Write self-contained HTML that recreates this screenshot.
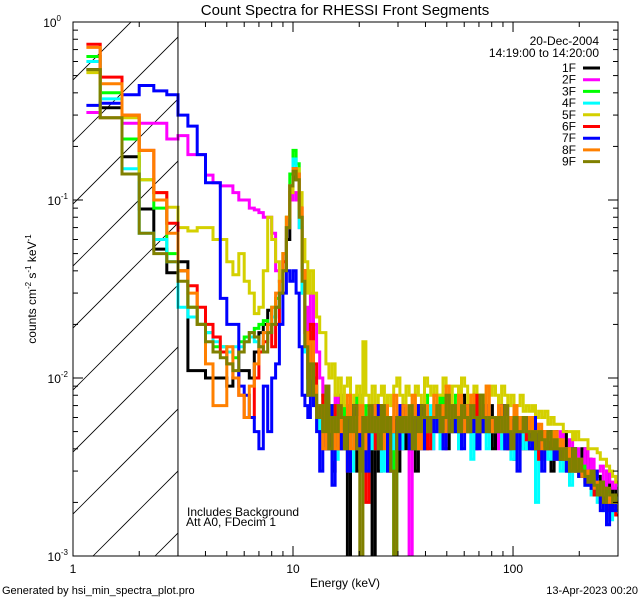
<!DOCTYPE html>
<html><head><meta charset="utf-8"><style>
body{margin:0;background:#fff}
svg{display:block;font-family:"Liberation Sans",sans-serif}
</style></head><body>
<svg id="chart" width="640" height="600" viewBox="0 0 640 600" xmlns="http://www.w3.org/2000/svg">
<defs><clipPath id="pc"><rect x="73" y="22" width="545" height="534"/></clipPath></defs>
<rect x="0" y="0" width="640" height="600" fill="#fff"/>
<text x="345" y="15" font-size="15" text-anchor="middle">Count Spectra for RHESSI Front Segments</text>
<g id="hatch"></g>
<g id="series" clip-path="url(#pc)"></g>
<g id="axes"></g>
<text x="187" y="516" font-size="12">Includes Background</text>
<text x="186" y="526" font-size="12">Att A0, FDecim 1</text>
<text x="345" y="587" font-size="12" text-anchor="middle">Energy (keV)</text>
<text transform="translate(36,289) rotate(-90)" font-size="12" text-anchor="middle">counts cm<tspan font-size="8" dy="-5">-2</tspan><tspan dy="5"> s</tspan><tspan font-size="8" dy="-5">-1</tspan><tspan dy="5"> keV</tspan><tspan font-size="8" dy="-5">-1</tspan></text>
<text x="2" y="594" font-size="11">Generated by hsi_min_spectra_plot.pro</text>
<text x="638" y="594" font-size="11" text-anchor="end">13-Apr-2023 00:20</text>
<text x="599" y="45" font-size="12" text-anchor="end">20-Dec-2004</text>
<text x="599" y="57" font-size="12" text-anchor="end">14:19:00 to 14:20:00</text>
<g id="legend"></g>
</svg>
<script>
const seriesNames = ["1F","2F","3F","4F","5F","6F","7F","8F","9F"];
const seriesColors = ["#000000","#ff00ff","#00ff00","#00ffff","#d4d000","#ff0000","#0000ff","#ff8000","#808000"];
// low-energy bin edges (keV)
const lowEdges = [1.15,1.33,1.67,2,2.33,2.67,3,3.33,3.67,4,4.33,4.67,5,5.33,5.67,6,6.33,6.67,7,7.33,7.67,8,8.33,8.67,9,9.33,9.67,10,10.33,10.67,11,11.33,11.67,12];
// counts in units of 1e-3 counts cm^-2 s^-1 keV^-1
const low1F = [540,330,175,89,53,39,45,11,11,10,10,10,9,10,11,11,10,14,18,20,24,22,25,30,40,60,110,140,130,80,35,15,8];
const low2F = [310,290,270,270,270,220,230,180,180,138,125,120,120,110,100,100,90,88,85,80,80,65,40,35,45,70,100,110,100,70,40,25,15];
const low3F = [640,400,220,130,90,50,40,25,20,18,15,15,14,13,16,17,18,19,20,21,18,25,28,35,50,80,140,190,160,80,30,15,10];
const low4F = [600,370,150,65,60,45,25,22,20,18,16,15,14,15,15,16,17,16,15,18,20,22,25,30,45,70,120,170,140,70,30,14,8];
const low5F = [520,290,290,130,110,91,70,67,70,70,60,60,45,38,50,35,30,23,25,40,80,60,45,35,50,80,110,140,150,110,60,45,30];
const low6F = [750,490,300,190,110,74,40,33,25,20,17,14,12,10,8,6,6,10,14,16,20,15,20,30,45,70,120,150,140,90,40,18,10];
const low7F = [340,350,390,440,410,390,300,260,180,125,125,28,20,20,9,8,6,5,4,9,5,10,12,20,30,40,35,40,30,15,8,7,6];
const low8F = [720,450,300,190,100,65,40,30,20,12,7,7,15,10,8,6,9,12,15,18,20,25,30,35,50,80,120,150,140,90,40,18,10];
const low9F = [540,290,140,65,50,45,35,25,20,16,14,13,12,11,14,16,18,17,15,14,18,20,25,30,40,70,120,145,130,80,35,15,8];
// high-energy bins: 100 log-spaced bins from 12 to ~290 keV
const highStart = 12, highRatio = 1.0328, highCount = 100;
const high1F = [13,9,6,5,7,4,6,3,5,8, 4,6,0.5,5,7,3,6,4,5,6, 0.4,5,3,6,7,4,5,6,3,5, 4,6,5,7,3,6,5,4,6,5, 7,5,6,8,4,6,7,5,6,8, 5,7,6,4,6,8,5,6,7,4, 6,5,7,4,6,5,3.5,6,5,4, 5,6,4,5,3.5,5,4,5,3,5, 4,3.5,5,4,3,4,3.5,3,4,3, 3.5,2.5,3,2.8,2.2,2.5,3,2,2.4,2.2];
const high2F = [30,20,14,10,8,9,7,6,8,5, 6,4,7,5,6,8,4,6,5,7, 5,6,4,7,5,6,3,5,6,4, 6,5,0.5,5,7,4,6,5,6,4, 7,5,6,4,6,5,7,6,4,6, 5,6,7,5,4,6,5,7,6,5, 6,4,5,7,6,5,4,6,4.5,5, 6,4,5,5.5,3.5,5,4,5,4.5,4, 4,5,3.5,4,4.5,3,4,3.5,3,4, 3,3.5,2.8,3,3.2,2.5,3,2.6,2.4,2.6];
const high3F = [18,10,7,6,8,5,6,7,4,6, 5,7,4,6,5,8,4,6,7,5, 6,4,5,7,6,4,5,1,6,5, 7,5,6,4,6,7,5,8,6,5, 7,6,8,5,7,6,5,8,6,7, 6,5,7,6,8,5,6,7,5,6, 5,7,6,5,6,4,6,5,5,6, 5,4,5.5,5,4,5,4.5,4,5,4, 4.5,3.5,4,3.5,4,3,3.5,3,3.2,3, 2.6,3,2.4,2.2,2.6,2,2.3,2.1,2,2.2];
const high4F = [16,9,6,5,7,4,5,6,3.5,5, 6,4,5,3,6,4,5,6,3.5,5, 4,6,5,3,5,6,4,5,6,4, 5,6,4,6,5,4,6,5,7,4, 6,5,4,6,5,7,5,6,4,6, 5,6,3.5,5,7,5,6,4,6,5, 6,5,4,6,5,3.5,5,6,4,5, 4,5,4,2,5,4,4.5,3.5,4,3.5, 4,3,3.5,3,2.5,3.5,3,2.8,3,2.5, 2.5,2.2,2.4,2,2.3,1.8,2.2,1.6,2,1.8];
const high5F = [40,30,22,18,18,12,10,12,8,10, 7,9,10,6.5,8,9,7,16,8,6.5, 9,7,8,9,6.5,8,7,9,10,8, 7,9,8,6.5,9,8,7,10,9,8, 9,8,8,10,9,7,9,9,8,10, 9,7,8,9,8,8,7,9,8,9, 8,7,9,8,7,8,6.5,7,8,6.5, 7,6.5,7,6,6.5,6,6.5,5.5,6,5.5, 5.5,5.5,5,5,5,4.5,5,4.5,4.5,4.5, 4,4,4,3.8,3.5,3.5,3.2,3,2.8,2.6];
const high6F = [20,12,7,6,8,4,6,5,7,4, 6,5,3,6,7,4,5,6,2,5, 6,4,7,5,6,3,5,6,4,7, 5,6,4,6,5,7,6,5,4,6, 6,7,5,6,8,5,6,7,5,6, 7,5,6,8,6,5,7,6,5,6, 6,5,7,6,4,6,5,6,5,5, 4.5,5,4,5,3.5,5,4.5,4,4.5,3.5, 4,3.5,4,3,3.5,3,3.2,2.8,3,2.6, 2.6,2.4,2.2,2.4,2,2.2,1.8,2,1.9,1.7];
const high7F = [10,7,5,3,6,4,7,2.5,6,5, 4,6,3,5,7,4,6,5,3,6, 5,7,4,6,5,3,6,5,4,7, 5,6,4,6,5,7,4,6,5,6, 5,7,6,4,6,5,7,5,6,4, 6,7,5,6,4,6,5,7,6,5, 5,6,7,4,6,5,6,3,5,6, 5,4,6,4,5,3,4.5,5,4,3.5, 4,3.5,4,3,3.5,4,3,2.8,3,2.5, 2.8,2.4,3,2.2,1.8,2.4,1.5,2,1.8,2];
const high8F = [16,9,6,7,4,8,5,6,4,7, 5,6,8,4,6,5,7,4,6,5, 7,5,6,4,7,6,5,8,6,5, 7,6,5,8,6,4,6,7,5,6, 8,6,7,5,9,6,7,6,8,5, 7,6,8,6,5,7,6,9,6,5, 6,7,5,6,5,6,7,5,6,5, 5,6,4.5,5,5.5,4,5,4.5,4,5, 4,4.5,3.5,4,3.5,3,3.5,3,2.8,3, 2.6,2.8,2.4,2.6,2.2,2.4,2,2.2,2,2];
const high9F = [12,8,6,7,5,9,4,6,5,7, 6,4,6,5,7,4,0.3,6,5,7, 5,6,4,7,5,6,3,0.4,6,5, 6,5,7,4,6,5,7,6,5,6, 6,7,5,6,8,5,7,6,5,7, 6,5,7,6,5,8,6,5,6,6, 5,6,5,7,5,4,6,5,5,6, 5,4.5,5,4,5,4.5,4,5,4,4.5, 4,3.5,4,3.5,3,4,3,3.5,3,2.8, 2.6,3,2.5,2.2,2.6,2,2.4,2.2,2,2.2];
const lowSeries = [low1F,low2F,low3F,low4F,low5F,low6F,low7F,low8F,low9F];
const highSeries = [high1F,high2F,high3F,high4F,high5F,high6F,high7F,high8F,high9F];
const xTickMajor = [1,10,100];
const xTickLabels = ["1","10","100"];
const yTickMajor = [1,0.1,0.01,0.001];
const yTickExp = ["0","-1","-2","-3"];

const NS="http://www.w3.org/2000/svg";
const X0=73,X1=618,Y0=22,Y1=556;
const xMin=1,xMax=300,yMin=0.001,yMax=1;
function xs(e){return X0+(X1-X0)*Math.log10(e/xMin)/Math.log10(xMax/xMin);}
function ys(v){return Y1-(Y1-Y0)*Math.log10(v/yMin)/Math.log10(yMax/yMin);}
function mk(tag,attrs,parent){const el=document.createElementNS(NS,tag);for(const k in attrs)el.setAttribute(k,attrs[k]);parent.appendChild(el);return el;}

const svg=document.getElementById('chart');
const x3=xs(3);
const hc=mk('clipPath',{id:'hc'},document.querySelector('defs'));
mk('rect',{x:X0,y:Y0,width:x3-X0,height:Y1-Y0},hc);
const hatch=document.getElementById('hatch');
hatch.setAttribute('clip-path','url(#hc)');
for(let k=-600;k<200;k+=62){
  mk('line',{x1:X0+k,y1:Y1,x2:X0+k+600,y2:Y1-600,stroke:'#000','stroke-width':0.8},hatch);
}
const vline=mk('line',{x1:x3,y1:Y0,x2:x3,y2:Y1,stroke:'#000','stroke-width':1},svg);



const highEdges=[highStart];
for(let i=0;i<highCount;i++)highEdges.push(highEdges[i]*highRatio);

const sg=document.getElementById('series');
function yc(v){return Math.min(Y1+5,ys(Math.max(v*1e-3,0.0008)));}
for(let s=0;s<9;s++){
  const vals=lowSeries[s].concat(highSeries[s]);
  const edges=lowEdges.concat(highEdges.slice(1));
  let d='';
  for(let i=0;i<vals.length;i++){
    const y=yc(vals[i]).toFixed(1);
    const xa=xs(edges[i]).toFixed(1), xb=xs(edges[i+1]).toFixed(1);
    d+=(i===0?'M':'L')+xa+','+y+'L'+xb+','+y;
  }
  const p=mk('path',{d:d,fill:'none',stroke:seriesColors[s],'stroke-width':3,'stroke-linejoin':'miter'},sg);
  
  
}

const ax=document.getElementById('axes');
const frame=mk('rect',{x:X0,y:Y0,width:X1-X0,height:Y1-Y0,fill:'none',stroke:'#000','stroke-width':1},ax);


for(let dec=1;dec<=100;dec*=10){
  for(let m=1;m<=9;m++){
    const e=dec*m; if(e>xMax)break;
    const x=xs(e), L=(m===1)?10:5;
    mk('line',{x1:x,y1:Y1,x2:x,y2:Y1-L,stroke:'#000'},ax);
    mk('line',{x1:x,y1:Y0,x2:x,y2:Y0+L,stroke:'#000'},ax);
  }
}
xTickMajor.forEach((e,i)=>{
  const t=mk('text',{x:xs(e),y:Y1+17,'font-size':12,'text-anchor':'middle'},ax);
  t.textContent=xTickLabels[i];
  
  
});
for(let dec=0.001;dec<0.99;dec*=10){
  for(let m=1;m<=10;m++){
    const v=dec*m, y=ys(v), L=(m===1||m===10)?10:5;
    mk('line',{x1:X0,y1:y,x2:X0+L,y2:y,stroke:'#000'},ax);
    mk('line',{x1:X1,y1:y,x2:X1-L,y2:y,stroke:'#000'},ax);
  }
}
yTickMajor.forEach((v,i)=>{
  const t=mk('text',{x:X0-5,y:ys(v)+5,'font-size':12,'text-anchor':'end'},ax);
  
  
  const a=document.createElementNS(NS,'tspan');a.textContent='10';t.appendChild(a);
  const b=document.createElementNS(NS,'tspan');b.setAttribute('font-size','8');b.setAttribute('dy','-6');b.textContent=yTickExp[i];t.appendChild(b);
  if(i===0){t.setAttribute('x',X0-12);}
});
const lg=document.getElementById('legend');
seriesNames.forEach((n,i)=>{
  const y=68+i*11.7;
  const t=mk('text',{x:576,y:y+4,'font-size':12,'text-anchor':'end'},lg);
  t.textContent=n;
  
  
  const l=mk('line',{x1:583,y1:y,x2:600,y2:y,stroke:seriesColors[i],'stroke-width':3},lg);
  
  
});
</script>
</body></html>
